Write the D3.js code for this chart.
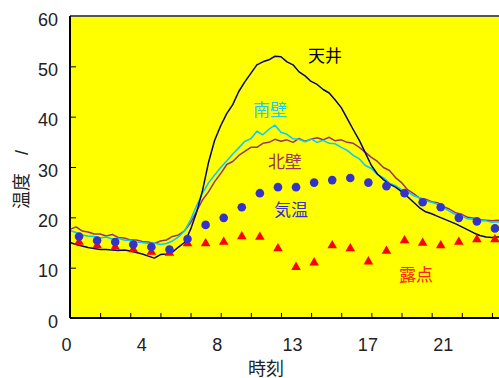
<!DOCTYPE html>
<html>
<head>
<meta charset="utf-8">
<script src="https://cdn.jsdelivr.net/npm/d3@7"></script>
<style>
body { margin: 0; background: #fff; }
text { font-family: "Liberation Sans", "Noto Sans CJK JP", sans-serif; }
</style>
</head>
<body>
<svg id="chart"></svg>
<script>
CHART_WIDTH = 499;
CHART_HEIGHT = 378;
CHART_MARGIN = { top: 16, right: 0, bottom: 60, left: 70 };
PLOT_WIDTH = 434;   // full day, runs past the right edge of the picture

// surface temperatures, one reading every 20 minutes from 0:00 to 24:00
var STEP_MIN = 20;
var ceiling = [
  15.0, 14.6, 14.3, 14.0, 13.8, 13.6, 13.6, 13.5, 13.4, 13.5, 13.3, 13.0,
  12.7, 12.3, 11.9, 12.6, 12.7, 13.1, 14.1, 15.0, 17.6, 21.0, 25.4, 31.0,
  35.3, 38.2, 40.6, 42.4, 45.0, 46.9, 48.6, 50.3, 50.9, 51.3, 52.0, 51.9,
  50.9, 50.3, 48.9, 48.1, 47.0, 46.4, 45.4, 44.7, 43.3, 41.8, 39.6, 37.4,
  35.3, 32.8, 30.3, 28.6, 27.5, 26.6, 26.0, 25.1, 24.1, 23.0, 21.9, 21.1,
  20.7, 20.2, 19.7, 19.2, 18.7, 18.1, 17.5, 16.9, 16.4, 16.1, 16.0, 16.1,
  16.0
];
var southWall = [
  17.4, 17.0, 16.5, 16.3, 16.2, 15.9, 16.1, 15.7, 15.8, 15.5, 15.4, 15.1,
  15.0, 14.8, 14.9, 14.6, 14.8, 15.3, 16.1, 17.3, 19.5, 22.3, 24.8, 26.9,
  28.4, 29.9, 31.2, 32.6, 33.8, 35.1, 35.6, 37.1, 36.4, 37.5, 38.3, 36.9,
  36.5, 35.6, 35.5, 35.0, 35.6, 34.9, 35.3, 34.7, 34.6, 33.9, 33.3, 32.3,
  31.6, 30.3, 29.7, 28.5, 27.9, 26.8, 26.3, 25.5, 25.1, 24.3, 23.9, 23.3,
  23.0, 22.6, 21.9, 21.2, 20.5, 20.2, 19.7, 19.6, 19.3, 19.3, 19.0, 19.1,
  19.0
];
var northWall = [
  17.6, 18.1, 17.3, 17.1, 16.7, 16.7, 16.3, 16.6, 16.0, 15.9, 15.5, 15.5,
  15.2, 15.1, 14.8, 15.3, 15.5, 16.2, 16.5, 17.3, 18.9, 21.2, 23.5, 25.1,
  27.1, 28.7, 30.5, 31.1, 32.3, 33.1, 33.9, 33.9, 34.7, 34.9, 35.5, 35.1,
  35.4, 34.9, 35.7, 35.1, 35.5, 35.8, 35.4, 35.9, 35.2, 35.4, 34.9, 34.7,
  33.9, 32.9, 31.9, 31.1, 29.9, 29.3, 27.9, 26.9, 25.5, 24.7, 23.8, 23.6,
  23.1, 22.9, 22.1, 21.6, 20.9, 20.6, 20.0, 19.8, 19.5, 19.4, 19.3, 19.4,
  19.3
];

// hourly observations
var obsHours = [0.5, 1.5, 2.5, 3.5, 4.5, 5.5, 6.5, 7.5, 8.5, 9.5, 10.5, 11.5,
                12.5, 13.5, 14.5, 15.5, 16.5, 17.5, 18.5, 19.5, 20.5, 21.5, 22.5, 23.5];
var airTemp = [16.2, 15.4, 15.1, 14.6, 14.1, 13.6, 15.7, 18.5, 19.9, 22.0, 24.8, 26.0,
               26.0, 26.9, 27.4, 27.8, 26.9, 26.2, 24.8, 23.0, 22.0, 19.9, 19.2, 17.8];
var dewPoint = [15.1, 14.4, 14.1, 13.6, 13.1, 12.9, 14.8, 14.8, 15.1, 16.2, 16.1, 13.8,
                10.1, 11.0, 14.4, 13.8, 11.2, 13.3, 15.4, 14.9, 14.4, 15.1, 15.6, 15.6];

var yTicks = [0, 10, 20, 30, 40, 50, 60];
var xLabelMinutes = [0, 250, 500, 750, 1000, 1250];   // labels every 25 readings of 10 min
var xMinorMinutes = [100, 200, 300, 400, 500, 600, 700, 800, 900, 1000, 1100, 1200, 1300, 1400];

var seriesLabels = [
  { text: "天井", color: "#000000", minute: 846, value: 52.0 },
  { text: "南壁", color: "#22CCEE", minute: 664, value: 41.3 },
  { text: "北壁", color: "#993366", minute: 713, value: 31.1 },
  { text: "気温", color: "#3333CC", minute: 733, value: 21.4 },
  { text: "露点", color: "#FF2200", minute: 1148, value: 8.5 }
];

function buildChart() {
    var svg = d3.select("#chart")
        .attr("width", CHART_WIDTH)
        .attr("height", CHART_HEIGHT);
    var height = CHART_HEIGHT - CHART_MARGIN.top - CHART_MARGIN.bottom;

    var x = d3.scaleLinear().domain([0, 1440]).range([0, PLOT_WIDTH]);
    var y = d3.scaleLinear().domain([0, 60]).range([height, 0]);

    var g = svg.append("g")
        .attr("transform", "translate(" + CHART_MARGIN.left + "," + CHART_MARGIN.top + ")");

    g.append("rect")
        .attr("width", PLOT_WIDTH)
        .attr("height", height)
        .attr("fill", "#FFFF00");

    // lines
    var line = d3.line()
        .x(function(d, i) { return x(i * STEP_MIN); })
        .y(function(d) { return y(d); });

    [[northWall, "#993366"], [southWall, "#00CCFF"], [ceiling, "#000080"]].forEach(function(s) {
        g.append("path")
            .datum(s[0])
            .attr("fill", "none")
            .attr("stroke", s[1])
            .attr("stroke-width", 1.5)
            .attr("stroke-linejoin", "round")
            .attr("d", line);
    });

    // dew point triangles (drawn under the air temperature dots)
    g.selectAll(".tri")
        .data(dewPoint)
        .enter().append("path")
        .attr("class", "tri")
        .attr("fill", "#FF0000")
        .attr("d", d3.symbol().type(d3.symbolTriangle).size(40))
        .attr("transform", function(d, i) {
            return "translate(" + x(obsHours[i] * 60) + "," + y(d) + ")";
        });

    g.selectAll(".dot")
        .data(airTemp)
        .enter().append("circle")
        .attr("class", "dot")
        .attr("fill", "#3333CC")
        .attr("r", 4.3)
        .attr("cx", function(d, i) { return x(obsHours[i] * 60); })
        .attr("cy", function(d) { return y(d); });

    // series names
    g.selectAll(".series-label")
        .data(seriesLabels)
        .enter().append("text")
        .attr("class", "series-label")
        .attr("x", function(d) { return x(d.minute); })
        .attr("y", function(d) { return y(d.value); })
        .attr("dy", "0.36em")
        .attr("text-anchor", "middle")
        .attr("font-size", "17px")
        .attr("fill", function(d) { return d.color; })
        .text(function(d) { return d.text; });

    // axes
    var yAxis = g.append("g")
        .call(d3.axisLeft(y).tickValues(yTicks).tickSize(-6).tickPadding(12));
    yAxis.select(".domain").remove();
    yAxis.selectAll("text").attr("font-size", "18px").attr("fill", "#222").attr("dy", "0.5em");

    var xMinor = g.append("g")
        .attr("transform", "translate(0," + height + ")")
        .call(d3.axisBottom(x).tickValues(xMinorMinutes).tickSize(-5).tickFormat(""));
    xMinor.select(".domain").remove();

    var xAxis = g.append("g")
        .attr("transform", "translate(0," + height + ")")
        .call(d3.axisBottom(x).tickValues(xLabelMinutes).tickSize(0).tickPadding(20)
            .tickFormat(function(m) { return Math.round(m / 60); }));
    xAxis.select(".domain").remove();
    xAxis.selectAll("text").attr("font-size", "18px").attr("fill", "#222").attr("dx", "-4");

    // plot frame
    g.append("line").attr("x1", 0).attr("x2", PLOT_WIDTH).attr("y1", 0).attr("y2", 0)
        .attr("stroke", "#555").attr("stroke-width", 2);
    g.append("line").attr("x1", 0).attr("x2", 0).attr("y1", 0).attr("y2", height)
        .attr("stroke", "#000").attr("stroke-width", 2);
    g.append("line").attr("x1", 0).attr("x2", PLOT_WIDTH).attr("y1", height).attr("y2", height)
        .attr("stroke", "#000").attr("stroke-width", 2);

    // axis titles
    svg.append("text")
        .attr("transform", "translate(22," + (CHART_MARGIN.top + y(27.5)) + ") rotate(-90)")
        .attr("text-anchor", "middle")
        .attr("dy", "0.36em")
        .attr("font-size", "18px")
        .attr("fill", "#222")
        .text("温度　/");

    svg.append("text")
        .attr("x", CHART_MARGIN.left + x(650))
        .attr("y", CHART_HEIGHT - 3)
        .attr("text-anchor", "middle")
        .attr("font-size", "18px")
        .attr("fill", "#222")
        .text("時刻");
}

buildChart();
</script>
</body>
</html>
